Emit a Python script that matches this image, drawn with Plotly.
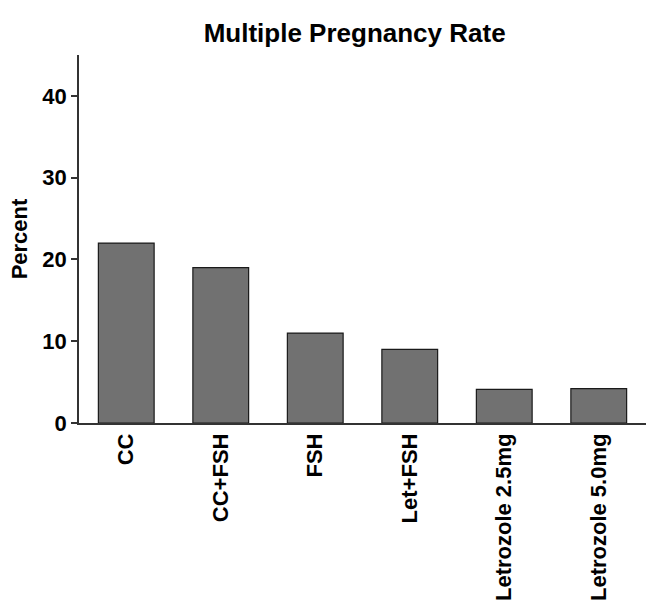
import plotly.graph_objects as go

categories = ["CC", "CC+FSH", "FSH", "Let+FSH", "Letrozole 2.5mg", "Letrozole 5.0mg"]
values = [22, 19, 11, 9, 4.1, 4.2]
y_ticks = [0, 10, 20, 30, 40]

FONT = "Liberation Sans, Arial, sans-serif"

fig = go.Figure(
    go.Bar(
        x=categories,
        y=values,
        width=0.59,
        marker=dict(color="#717171", line=dict(color="#1a1a1a", width=1.2)),
    )
)

fig.update_layout(
    width=646,
    height=613,
    margin=dict(l=79, r=0, t=55, b=190),
    paper_bgcolor="white",
    plot_bgcolor="white",
    showlegend=False,
    title=dict(
        text="Multiple Pregnancy Rate",
        x=0.549,
        xanchor="center",
        y=1 - 33 / 613,
        yanchor="middle",
        font=dict(family=FONT, size=26, color="black", weight="bold"),
    ),
)

fig.update_xaxes(
    range=[-0.5, 5.5],
    showline=True,
    linecolor="#333333",
    linewidth=1.5,
    ticks="",
    tickangle=-90,
    tickfont=dict(family=FONT, size=22, color="black", weight="bold"),
    showgrid=False,
    zeroline=False,
)

fig.update_yaxes(
    range=[0, 45],
    tickvals=y_ticks,
    showline=True,
    linecolor="#333333",
    linewidth=1.5,
    ticks="outside",
    ticklen=6,
    tickwidth=1.5,
    tickcolor="#333333",
    tickfont=dict(family=FONT, size=22, color="black", weight="bold"),
    title=dict(text="Percent", font=dict(family=FONT, size=22, color="black", weight="bold"), standoff=9),
    showgrid=False,
    zeroline=False,
)

fig.write_html(
    "out.html",
    config={"displayModeBar": False},
    post_script="document.body.style.margin='0';document.body.style.overflow='hidden';",
)
